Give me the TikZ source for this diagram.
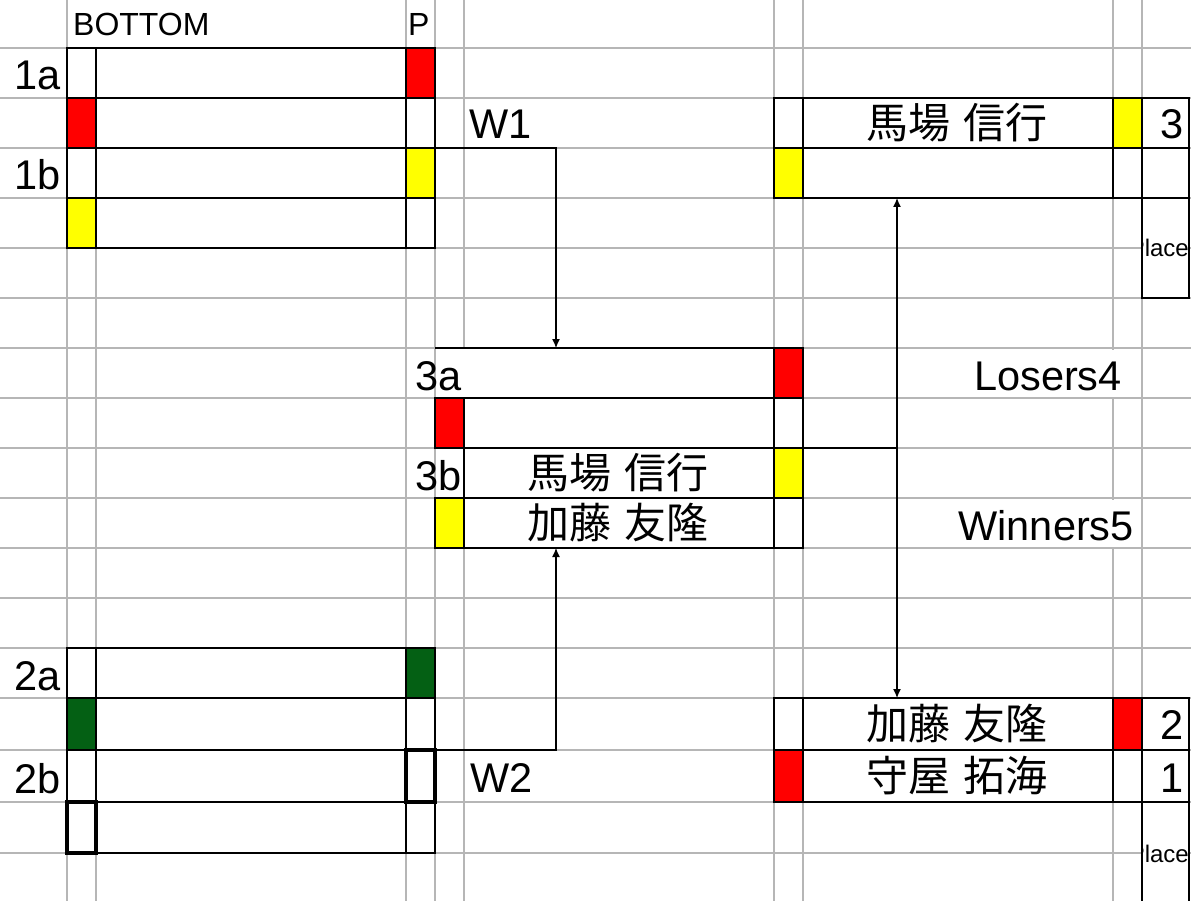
\documentclass[tikz,border=0pt]{standalone}
\usepackage{fontspec}
\setmainfont{Liberation Sans}
\newfontfamily\jpfont{Noto Sans CJK JP}
\usetikzlibrary{arrows.meta}
\definecolor{cellred}{RGB}{255,0,0}
\definecolor{cellyellow}{RGB}{255,255,0}
\definecolor{cellgreen}{RGB}{4,96,20}
\definecolor{gridgray}{RGB}{182,182,182}

\newcommand{\namegap}{\hspace{0.33em}}

\tikzset{
  gridline/.style={draw=gridgray, line width=1.6pt},
  box/.style={draw=black, line width=1.2pt},
  thickbox/.style={draw=black, line width=3.4pt},
  conn/.style={draw=black, line width=1.2pt},
  arr/.style={conn, -{Latex[length=9pt,width=8pt]}},
  bigtext/.style={font=\fontsize{41.5}{44}\selectfont, inner sep=0pt},
  headtext/.style={font=\fontsize{32}{34}\selectfont, inner sep=0pt},
  placetext/.style={font=\fontsize{24}{26}\selectfont, inner sep=0pt},
  jpname/.style={font=\fontsize{42}{44}\selectfont\jpfont, inner sep=0pt},
}

\begin{document}
\begin{tikzpicture}[x=1pt, y=-1pt]
	\clip (0,0) rectangle (1191,901);
	\fill[white] (0,0) rectangle (1191,901);
	% sheet grid
	\foreach \y in {48,98,148,198,248,298,348,398,448,498,548,598,648,698,750,802,853} {
		\draw[gridline] (0,\y) -- (1191,\y);
	}
	\foreach \x in {67,96,406,435,464,774,803,1113,1142} {
		\draw[gridline] (\x,0) -- (\x,901);
	}
	% text running over cells hides the grid
	\fill[white] (68.5,0) rectangle (404.5,47);
	\fill[white] (804,349.5) rectangle (1140.5,396.5);
	\fill[white] (804,499.5) rectangle (1140.5,546.5);
	\fill[white] (436,449.5) rectangle (463,496.5);

	% block 1
	\foreach \y/\lc/\rc in {48/white/cellred, 98/cellred/white, 148/white/cellyellow, 198/cellyellow/white} {
		\draw[box, fill=\lc] (67,\y) rectangle (96,\y+50);
		\draw[box, fill=white] (96,\y) rectangle (406,\y+50);
		\draw[box, fill=\rc] (406,\y) rectangle (435,\y+50);
	}
	% block 2
	\foreach \y/\z/\lc/\rc in {648/698/white/cellgreen, 698/750/cellgreen/white, 750/802/white/white, 802/853/white/white} {
		\draw[box, fill=\lc] (67,\y) rectangle (96,\z);
		\draw[box, fill=white] (96,\y) rectangle (406,\z);
		\draw[box, fill=\rc] (406,\y) rectangle (435,\z);
	}
	\draw[thickbox] (406,750) rectangle (435,802);
	\draw[thickbox] (67,802) rectangle (96,853);

	% block 3
	\fill[white] (435.6,348.6) rectangle (773.4,397.4);
	\draw[box] (435,348) -- (774,348);
	\draw[box, fill=cellred] (774,348) rectangle (803,398);
	\draw[box, fill=cellred] (435,398) rectangle (464,448);
	\draw[box, fill=white] (464,398) rectangle (774,448);
	\draw[box, fill=white] (774,398) rectangle (803,448);
	\draw[box, fill=white] (464,448) rectangle (774,498);
	\draw[box, fill=cellyellow] (774,448) rectangle (803,498);
	\draw[box, fill=cellyellow] (435,498) rectangle (464,548);
	\draw[box, fill=white] (464,498) rectangle (774,548);
	\draw[box, fill=white] (774,498) rectangle (803,548);

	% final, top
	\draw[box, fill=white] (774,98) rectangle (803,148);
	\draw[box, fill=white] (803,98) rectangle (1113,148);
	\draw[box, fill=cellyellow] (1113,98) rectangle (1142,148);
	\draw[box, fill=white] (1142,98) rectangle (1189,148);
	\draw[box, fill=cellyellow] (774,148) rectangle (803,198);
	\draw[box, fill=white] (803,148) rectangle (1113,198);
	\draw[box, fill=white] (1113,148) rectangle (1142,198);
	\draw[box, fill=white] (1142,148) rectangle (1189,198);
	\draw[box, fill=white] (1142,198) rectangle (1189,298);
	% final, bottom
	\draw[box, fill=white] (774,698) rectangle (803,750);
	\draw[box, fill=white] (803,698) rectangle (1113,750);
	\draw[box, fill=cellred] (1113,698) rectangle (1142,750);
	\draw[box, fill=white] (1142,698) rectangle (1189,750);
	\draw[box, fill=cellred] (774,750) rectangle (803,802);
	\draw[box, fill=white] (803,750) rectangle (1113,802);
	\draw[box, fill=white] (1113,750) rectangle (1142,802);
	\draw[box, fill=white] (1142,750) rectangle (1189,802);
	\draw[box, fill=white] (1142,802) rectangle (1189,930);

	% labels
	\node[headtext, anchor=base west] (bottom) at (73,36) {BOTTOM};
	\node[headtext, anchor=base west] (pcol) at (408,36) {P};
	\node[bigtext, anchor=base east] (m1a) at (61,90) {1a};
	\node[bigtext, anchor=base east] (m1b) at (61,190) {1b};
	\node[bigtext, anchor=base east] (m2a) at (61,690) {2a};
	\node[bigtext, anchor=base east] (m2b) at (61,793) {2b};
	\node[bigtext, anchor=base east] (m3a) at (462,390) {3a};
	\node[bigtext, anchor=base east] (m3b) at (462,490) {3b};
	\node[bigtext, anchor=base west] (w1) at (469,139) {W1};
	\node[bigtext, anchor=base west] (w2) at (470,792) {W2};
	\node[bigtext, anchor=base east] (losers) at (1122,390) {Losers4};
	\node[bigtext, anchor=base east] (winners) at (1134,540) {Winners5};
	\node[bigtext, anchor=base east] (pl3) at (1184,139) {3};
	\node[bigtext, anchor=base east] (pl2) at (1184,739) {2};
	\node[bigtext, anchor=base east] (pl1) at (1184,792) {1};
	\node[jpname] (n3b) at (618,473) {馬場\namegap 信行};
	\node[jpname] (n3c) at (618,523) {加藤\namegap 友隆};
	\node[jpname] (nf3) at (957,123) {馬場\namegap 信行};
	\node[jpname] (nf2) at (957,724) {加藤\namegap 友隆};
	\node[jpname] (nf1) at (957,776) {守屋\namegap 拓海};
	\begin{scope}
		\clip (1142.6,198.6) rectangle (1188.4,297.4);
		\node[placetext, anchor=east] (place3) at (1189,248) {Place};
	\end{scope}
	\begin{scope}
		\clip (1142.6,802.6) rectangle (1188.4,901);
		\node[placetext, anchor=east] (place1) at (1189,854) {Place};
	\end{scope}

	% connectors
	\coordinate (w1from) at (435,148);
	\coordinate (w1to) at (556,348);
	\coordinate (w2from) at (435,750);
	\coordinate (w2to) at (556,548);
	\coordinate (out3) at (803,448);
	\coordinate (split) at (897,448);
	\coordinate (to3rd) at (897,198);
	\coordinate (to1st) at (897,698);
	\draw[arr] (w1from) -| (w1to);
	\draw[arr] (w2from) -| (w2to);
	\draw[conn] (out3) -- (split);
	\draw[arr] (split) -- (to3rd);
	\draw[arr] (split) -- (to1st);
\end{tikzpicture}
\end{document}
